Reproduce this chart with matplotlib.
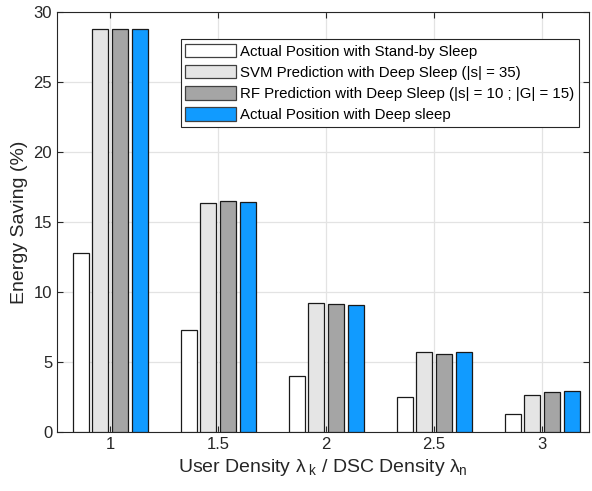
import numpy as np
import matplotlib.pyplot as plt

plt.rcParams['font.family'] = ['Liberation Sans', 'DejaVu Sans']
plt.rcParams['mathtext.fontset'] = 'custom'
plt.rcParams['mathtext.rm'] = 'Liberation Sans'
plt.rcParams['mathtext.it'] = 'Liberation Sans'

density = [1, 1.5, 2, 2.5, 3]
standby = [12.8, 7.29, 4.02, 2.52, 1.31]
svm = [28.76, 16.33, 9.21, 5.74, 2.67]
rf = [28.76, 16.52, 9.14, 5.60, 2.86]
deep = [28.76, 16.40, 9.05, 5.69, 2.95]
labels = ["Actual Position with Stand-by Sleep",
          "SVM Prediction with Deep Sleep (|s| = 35)",
          "RF Prediction with Deep Sleep (|s| = 10 ; |G| = 15)",
          "Actual Position with Deep sleep"]
colors = ['#ffffff', '#e5e5e5', '#a5a5a5', '#119bff']

fig = plt.figure(figsize=(5.92, 4.91), dpi=100)
ax = fig.add_axes([0.0963, 0.120, 0.8987, 0.8556])

x = np.array(density)
offsets = [-0.135, -0.044, 0.046, 0.137]
w = 0.074
for vals, off, c, lab in zip([standby, svm, rf, deep], offsets, colors, labels):
    ax.bar(x + off, vals, w, color=c, edgecolor='#1a1a1a', linewidth=0.9, label=lab, zorder=3)

ax.set_xlim(0.755, 3.218)
ax.set_ylim(0, 30)
ax.set_xticks(density)
ax.set_xticklabels(['1', '1.5', '2', '2.5', '3'])
ax.set_yticks(range(0, 31, 5))
ax.grid(True, color='#e3e3e3', linewidth=0.9, zorder=0)
ax.tick_params(direction='in', top=True, right=True, labelsize=12, colors='#262626', length=4)
for s in ax.spines.values():
    s.set_color('#262626')
    s.set_linewidth(0.8)
ax.set_xlabel(r"User Density $\lambda_{\ k}$ / DSC Density $\lambda_n$", fontsize=14, color='#262626')
ax.set_ylabel("Energy Saving (%)", fontsize=14, color='#262626')

leg = ax.legend(loc='upper left', bbox_to_anchor=(0.233, 0.935), fontsize=10.8, frameon=True,
                fancybox=False, edgecolor='#262626', framealpha=1, borderpad=0.3,
                handlelength=3.35, handleheight=1.0, handletextpad=0.3, labelspacing=0.42,
                borderaxespad=0)
leg.get_frame().set_linewidth(0.8)
for h in leg.legend_handles:
    h.set_edgecolor('#404040')

fig.savefig('out.png', dpi=100)
